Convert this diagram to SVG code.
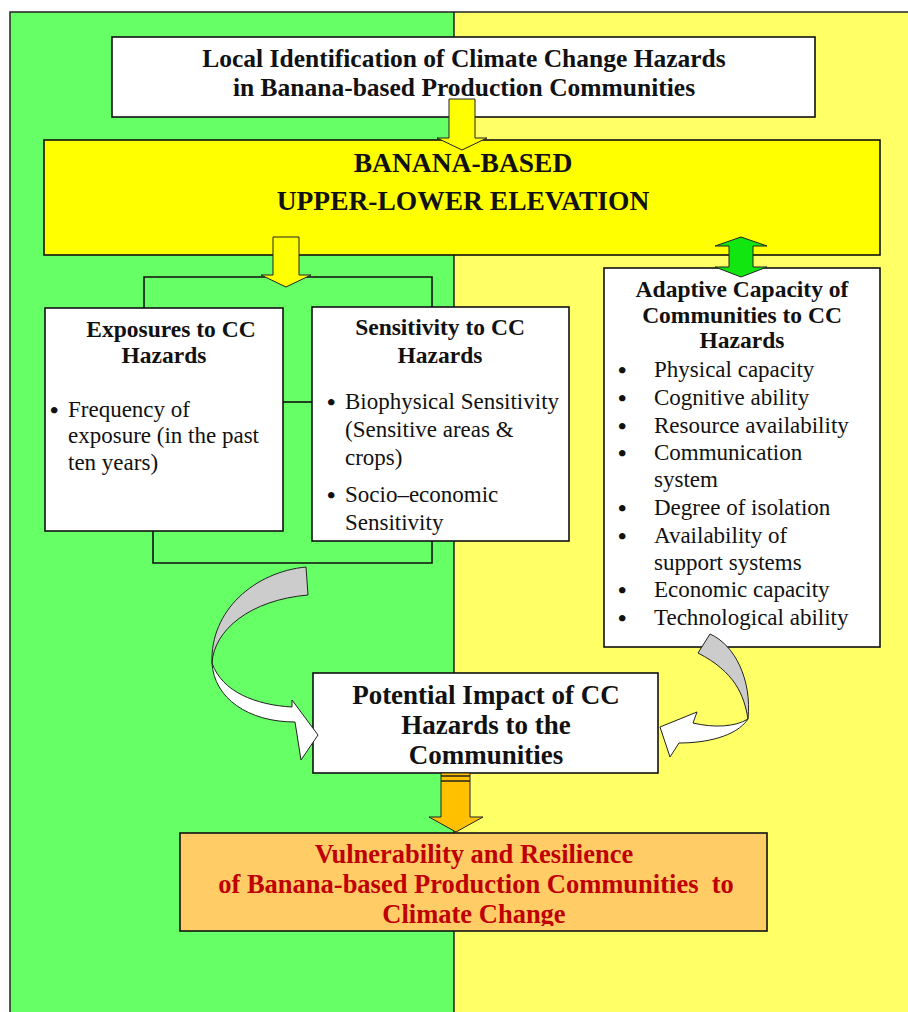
<svg xmlns="http://www.w3.org/2000/svg" width="908" height="1012" viewBox="0 0 908 1012">
<style>
.box{stroke:#111;stroke-width:1.6}
.t{font-family:"Liberation Serif","Times New Roman",serif;fill:#111}
.b{font-weight:bold}
.c{text-anchor:middle}
.body{font-size:23px}
.bul{font-size:24px;font-weight:bold}
.ttl{font-size:23.5px;font-weight:bold}
.line{fill:none;stroke:#111;stroke-width:1.6}
.arr{stroke:#222;stroke-width:1}
</style>
<defs>
<clipPath id="vclip"><rect x="180" y="834" width="587" height="92"/></clipPath>
</defs>
<g id="background">
<rect x="10" y="12" width="444" height="1000" fill="#66FF66"/>
<rect x="454" y="12" width="454" height="1000" fill="#FFFF66"/>
<path d="M10,1012 V12 H908" fill="none" stroke="#222" stroke-width="1.5"/>
<line x1="454" y1="12" x2="454" y2="1012" stroke="#222" stroke-width="1.5"/>
</g>
<g id="connectors">
<path class="line" d="M144,308 V277 H432 V307"/>
<line class="line" x1="283" y1="402" x2="312" y2="402"/>
<path class="line" d="M153,531 V563 H432 V541"/>
</g>
<g id="node-top">
<rect class="box" x="112" y="37" width="703" height="80" fill="#FFFFFF"/>
<text class="t b c" x="464" y="67" font-size="25.5">Local Identification of Climate Change Hazards</text>
<text class="t b c" x="464" y="96" font-size="25.5">in Banana-based Production Communities</text>
</g>
<g id="node-banana">
<rect class="box" x="44" y="140" width="836" height="115" fill="#FFFF00"/>
<text class="t b c" x="463" y="172" font-size="27.5">BANANA-BASED</text>
<text class="t b c" x="463" y="210" font-size="27.5">UPPER-LOWER ELEVATION</text>
</g>
<g id="node-exposure">
<rect class="box" x="45" y="308" width="238" height="223" fill="#FFFFFF"/>
<text class="t ttl c" x="171" y="337">Exposures to CC</text>
<text class="t ttl c" x="164" y="363">Hazards</text>
<text class="t bul" x="50" y="418">•</text>
<text class="t body" x="68" y="417">Frequency of</text>
<text class="t body" x="68" y="443">exposure (in the past</text>
<text class="t body" x="68" y="470">ten years)</text>
</g>
<g id="node-sensitivity">
<rect class="box" x="312" y="307" width="257" height="234" fill="#FFFFFF"/>
<text class="t ttl c" x="440" y="335">Sensitivity to CC</text>
<text class="t ttl c" x="440" y="363">Hazards</text>
<text class="t bul" x="327" y="410">•</text>
<text class="t body" x="345" y="409">Biophysical Sensitivity</text>
<text class="t body" x="345" y="437">(Sensitive areas &amp;</text>
<text class="t body" x="345" y="465">crops)</text>
<text class="t bul" x="327" y="503">•</text>
<text class="t body" x="345" y="502">Socio–economic</text>
<text class="t body" x="345" y="530">Sensitivity</text>
</g>
<g id="node-adaptive">
<rect class="box" x="604" y="268" width="276" height="379" fill="#FFFFFF"/>
<text class="t ttl c" x="742" y="297">Adaptive Capacity of</text>
<text class="t ttl c" x="742" y="323">Communities to CC</text>
<text class="t ttl c" x="742" y="348">Hazards</text>
<g class="t bul">
<text x="618" y="378">•</text>
<text x="618" y="406">•</text>
<text x="618" y="434">•</text>
<text x="618" y="461">•</text>
<text x="618" y="516">•</text>
<text x="618" y="544">•</text>
<text x="618" y="598">•</text>
<text x="618" y="626">•</text>
</g>
<g class="t body">
<text x="654" y="377">Physical capacity</text>
<text x="654" y="405">Cognitive ability</text>
<text x="654" y="433">Resource availability</text>
<text x="654" y="460">Communication</text>
<text x="654" y="487">system</text>
<text x="654" y="515">Degree of isolation</text>
<text x="654" y="543">Availability of</text>
<text x="654" y="570">support systems</text>
<text x="654" y="597">Economic capacity</text>
<text x="654" y="625">Technological ability</text>
</g>
</g>
<g id="node-impact">
<rect class="box" x="313" y="673" width="345" height="100" fill="#FFFFFF"/>
<text class="t b c" x="486" y="704" font-size="27">Potential Impact of CC</text>
<text class="t b c" x="486" y="734" font-size="27">Hazards to the</text>
<text class="t b c" x="486" y="764" font-size="27">Communities</text>
</g>
<g id="node-vulnerability">
<rect class="box" x="180" y="833" width="587" height="98" fill="#FFCC66"/>
<g clip-path="url(#vclip)">
<text class="t b c" x="474" y="863" font-size="26.5" style="fill:#C00000">Vulnerability and Resilience</text>
<text class="t b c" x="476" y="893" font-size="26.5" style="fill:#C00000;white-space:pre" xml:space="preserve">of Banana-based Production Communities  to</text>
<text class="t b c" x="474" y="923" font-size="26.5" style="fill:#C00000">Climate Change</text>
</g>
</g>
<g id="arrows">
<path class="arr" fill="#FFFF00" d="M449,99 H475 V138 H487 L462,150 L437,138 H449 Z"/>
<path class="arr" fill="#FFFF00" d="M273,237 H299 V275 H311 L286,287 L261,275 H273 Z"/>
<path class="arr" fill="#11E611" d="M741,237 L767,246 H753 V267 H767 L741,277 L715,267 H729 V246 H715 Z"/>
<path class="arr" fill="#FFC000" d="M441,773 H470 V817 H483 L456,832 L429,817 H441 Z"/>
<line x1="441" y1="776" x2="470" y2="776" stroke="#222" stroke-width="1.5"/>
<line x1="441" y1="781" x2="470" y2="781" stroke="#222" stroke-width="1.5"/>
<path class="arr" fill="#CCCCCC" d="M306,567 C255,572 210,610 212,663 C214,630 250,600 308,595 Z"/>
<path class="arr" fill="#FFFFFF" d="M212,663 C214,698 248,722 295,722 L301,760 L318,735 L292,700 L292,707 C256,705 222,692 212,663 Z"/>
<path class="arr" fill="#CCCCCC" d="M710,634 C735,645 752,680 748,719 C744,695 735,672 698,653 Z"/>
<path class="arr" fill="#FFFFFF" d="M748,719 C735,727 714,728 693,723 L697,712 L660,727 L670,757 L679,743 C705,743 736,737 748,719 Z"/>
</g>
</svg>
